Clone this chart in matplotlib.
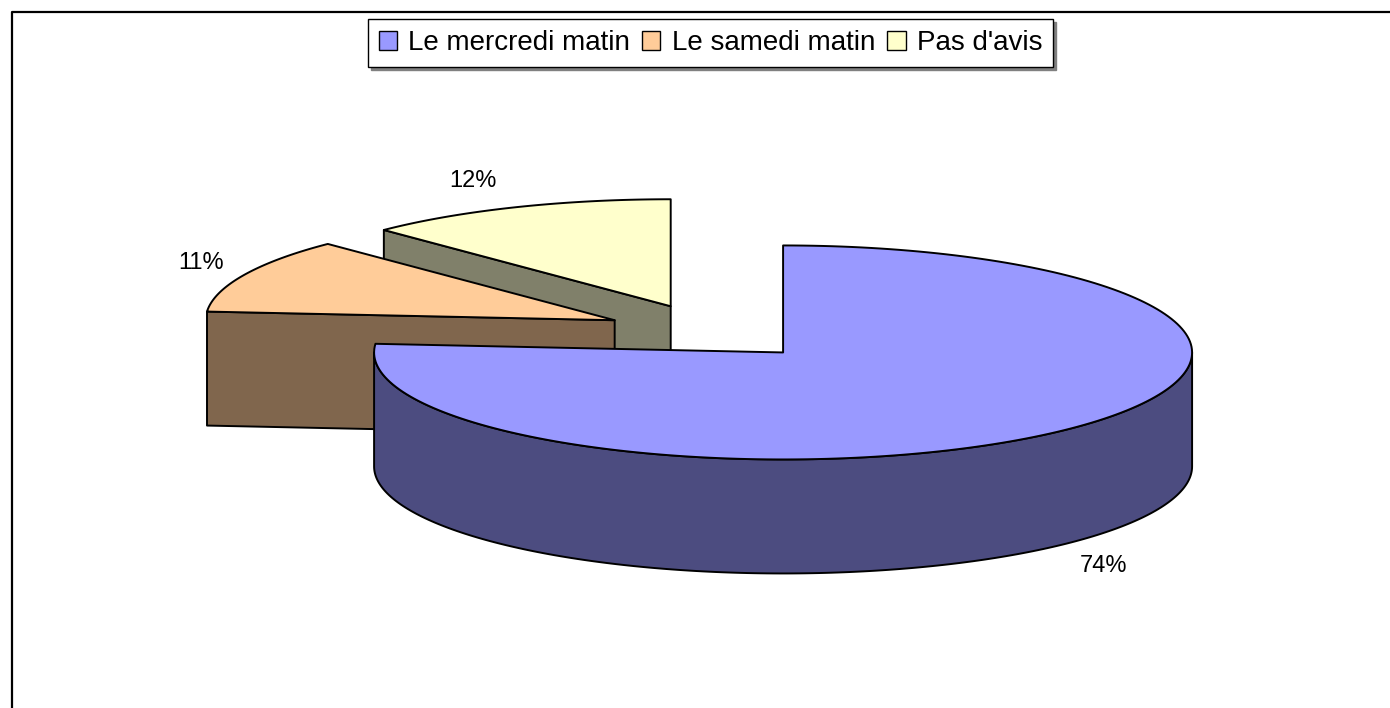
import numpy as np
import matplotlib
matplotlib.use('Agg')
import matplotlib.pyplot as plt
from matplotlib.patches import Polygon, Patch

plt.rcParams['font.family'] = ['Liberation Sans', 'DejaVu Sans']

# ---- data ----
categories = ["Le mercredi matin", "Le samedi matin", "Pas d'avis"]
values = [74, 11, 12]
pct_labels = ["74%", "11%", "12%"]
top_colors = ["#9999FF", "#FFCC99", "#FFFFCC"]
side_colors = ["#4C4C80", "#80664D", "#80806A"]

# ---- layout ----
W, H = 1390, 708
CX, CY = 711, 332        # pie centre (pixels)
RA, RB = 409, 107        # ellipse semi-axes
DEPTH = 114              # thickness
EXPLODE = 0.26
START = 90               # first slice starts at 12 o'clock, clockwise
LABEL_DX, LABEL_DY = 43, 28
LW = 1.4

fig = plt.figure(figsize=(W / 100, H / 100), dpi=100)
ax = fig.add_axes([0, 0, 1, 1])
ax.set_xlim(0, W)
ax.set_ylim(H, 0)
ax.axis('off')

# chart frame
ax.plot([12, 12, W + 10], [H + 10, 12, 12], color='black', lw=1.6,
        solid_capstyle='projecting')


def pt(cx, cy, t, dz=0.0):
    r = np.radians(t)
    return (cx + RA * np.cos(r), cy - RB * np.sin(r) + dz)


def arc(cx, cy, t1, t2, dz=0.0, n=200):
    ts = np.linspace(t1, t2, n)
    return [pt(cx, cy, t, dz) for t in ts]


total = float(sum(values))
slices = []
cur = START
for i, v in enumerate(values):
    span = 360.0 * v / total
    t2 = cur
    t1 = cur - span
    cur = t1
    mid = 0.5 * (t1 + t2)
    r = np.radians(mid)
    cx = CX + EXPLODE * RA * np.cos(r)
    cy = CY - EXPLODE * RB * np.sin(r)
    slices.append(dict(i=i, t1=t1, t2=t2, mid=mid, cx=cx, cy=cy))

# painter's order: back (small screen y) first
order = sorted(slices, key=lambda s: s['cy'])

for s in order:
    i, t1, t2, cx, cy = s['i'], s['t1'], s['t2'], s['cx'], s['cy']
    side = side_colors[i]
    # radial faces
    for t, visible in ((t1, np.cos(np.radians(t1)) > 1e-6),
                       (t2, np.cos(np.radians(t2)) < -1e-6)):
        if visible:
            p0 = (cx, cy)
            p1 = pt(cx, cy, t)
            poly = [p0, p1, (p1[0], p1[1] + DEPTH), (p0[0], p0[1] + DEPTH)]
            ax.add_patch(Polygon(poly, closed=True, facecolor=side,
                                 edgecolor='black', lw=LW, joinstyle='round'))
    # outer wall (front half only)
    for base in (-540, -180, 180):
        lo, hi = max(t1, base), min(t2, base + 180)
        if hi - lo > 1e-6:
            poly = arc(cx, cy, lo, hi) + arc(cx, cy, hi, lo, DEPTH)
            ax.add_patch(Polygon(poly, closed=True, facecolor=side,
                                 edgecolor='black', lw=LW, joinstyle='round'))
    # top face
    poly = [(cx, cy)] + arc(cx, cy, t1, t2)
    ax.add_patch(Polygon(poly, closed=True, facecolor=top_colors[i],
                         edgecolor='black', lw=LW, joinstyle='round'))

# percentage labels
for s in slices:
    m = s['mid']
    r = np.radians(m)
    x, y = pt(s['cx'], s['cy'], m, DEPTH if np.sin(r) < 0 else 0)
    x += LABEL_DX * np.sign(np.cos(r))
    y += -LABEL_DY * np.sin(r)
    ax.text(x, y, pct_labels[s['i']], ha='center', va='center',
            fontsize=17, color='black')

# legend
handles = [Patch(facecolor=c, edgecolor='black', lw=1.0) for c in top_colors]
leg = fig.legend(handles, categories, loc='upper center',
                 bbox_to_anchor=(710.5 / W, 1 - 19 / H), ncol=3, fontsize=20,
                 handlelength=0.65, handleheight=0.65, handletextpad=0.4,
                 columnspacing=0.45, borderpad=0.4, borderaxespad=0,
                 frameon=True, fancybox=False, edgecolor='black',
                 shadow={'color': '#808080', 'alpha': 1.0}, framealpha=1)
leg.get_frame().set_linewidth(1.0)

fig.savefig('out.png', dpi=100)
